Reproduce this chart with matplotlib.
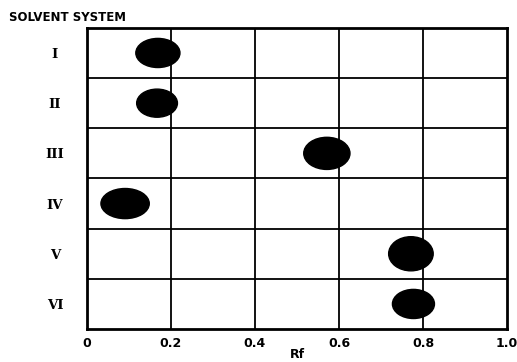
import matplotlib
matplotlib.use('Agg')
import matplotlib.pyplot as plt
from matplotlib.patches import Ellipse

systems = ['I', 'II', 'III', 'IV', 'V', 'VI']
rf = [0.169, 0.167, 0.571, 0.091, 0.771, 0.777]
# spot size in Rf units (width) and row units (height)
spot_w = [0.105, 0.097, 0.110, 0.115, 0.106, 0.100]
spot_h = [0.58, 0.56, 0.64, 0.60, 0.68, 0.58]
xticks = [0, 0.2, 0.4, 0.6, 0.8, 1.0]
xticklabels = ['0', '0.2', '0.4', '0.6', '0.8', '1.0']

fig = plt.figure(figsize=(5.17, 3.62), dpi=100)
ax = fig.add_axes([0.168, 0.091, 0.813, 0.832])

n = len(systems)
ax.set_xlim(0, 1.0)
ax.set_ylim(n, 0)

for i in range(n):
    e = Ellipse((rf[i], i + 0.5), spot_w[i], spot_h[i],
                facecolor='black', edgecolor='black', zorder=3)
    ax.add_patch(e)

for x in xticks[1:-1]:
    ax.axvline(x, color='black', lw=1.3, zorder=1)
for k in range(1, n):
    ax.axhline(k, color='black', lw=1.3, zorder=1)

for s in ax.spines.values():
    s.set_linewidth(2)

ax.set_xticks(xticks)
ax.set_xticklabels(xticklabels, fontsize=9, fontweight='bold')
ax.set_yticks([i + 0.5 for i in range(n)])
ax.set_yticklabels(systems, fontsize=9.5, fontweight='bold', family='DejaVu Serif')
ax.tick_params(length=0, pad=6)
ax.tick_params(axis='y', pad=23)
for lab in ax.get_yticklabels():
    lab.set_horizontalalignment('center')

ax.set_xlabel('Rf', fontsize=9, fontweight='bold', labelpad=-2)
fig.text(0.018, 0.953, 'SOLVENT SYSTEM', fontsize=8.5, fontweight='bold', va='center')

fig.savefig('out.png', dpi=100)
